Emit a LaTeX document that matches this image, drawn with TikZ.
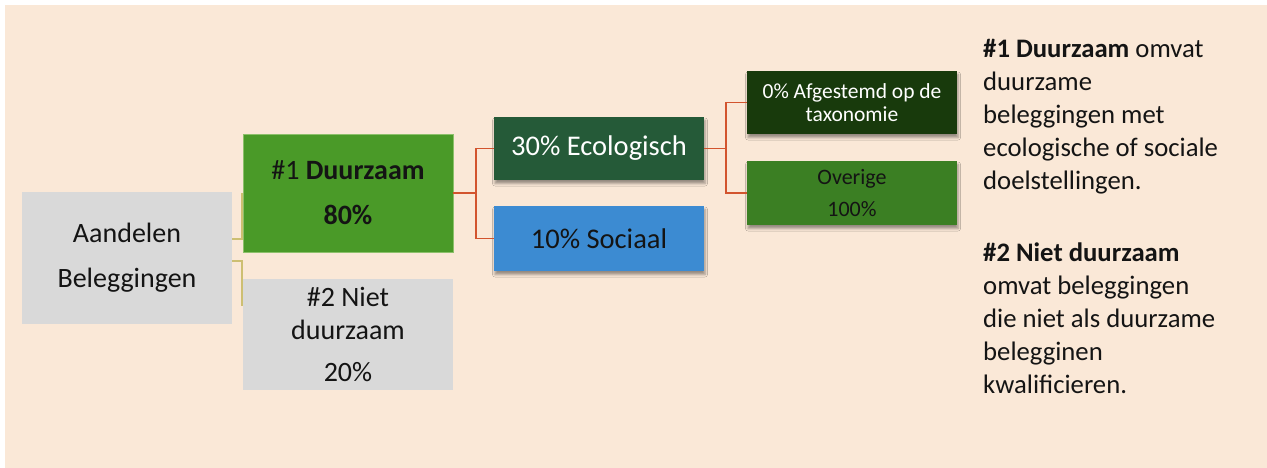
\documentclass[tikz,border=0pt]{standalone}
\usepackage{fontspec}
\setmainfont{Carlito}
\usetikzlibrary{shadows.blur}

\definecolor{bgpeach}{HTML}{FAE8D7}
\definecolor{boxgrey}{HTML}{D9D9D9}
\definecolor{durgreen}{HTML}{4A9A28}
\definecolor{durline}{HTML}{8CC06A}
\definecolor{ecogreen}{HTML}{255A38}
\definecolor{socblue}{HTML}{3C8BD2}
\definecolor{taxgreen}{HTML}{183A0C}
\definecolor{restgreen}{HTML}{3B7F23}
\definecolor{linkred}{HTML}{D2542E}
\definecolor{linkolive}{HTML}{CDBF72}
\definecolor{inkdark}{HTML}{141414}

\begin{document}
\begin{tikzpicture}[x=1pt, y=-1pt,
  box/.style={minimum width=210pt, inner sep=0pt, align=center, text=inkdark},
  softshadow/.style={blur shadow={shadow xshift=1pt, shadow yshift=-3.5pt,
      shadow blur radius=2.5pt, shadow opacity=40}},
  olivelink/.style={draw=linkolive, line width=1.6pt},
  redlink/.style={draw=linkred, line width=1.9pt},
  bigtext/.style={font=\fontsize{28}{45}\selectfont},
  smalltext/.style={font=\fontsize{21.5}{23}\selectfont}
]
\useasboundingbox (0,0) rectangle (1267,468);
\fill[white] (0,0) rectangle (1267,468);
\fill[bgpeach] (5,5) rectangle (1267,468);

% first level
\node[box, fill=boxgrey, minimum height=132pt, bigtext] (root) at (127,258)
  {Aandelen\\Beleggingen};
\node[box, fill=durgreen, draw=durline, line width=0.6pt, minimum height=118pt, bigtext]
  (dz) at (348,193) {\#1 \textbf{Duurzaam}\\\textbf{80\%}};
\node[box, fill=boxgrey, minimum height=111pt, font=\fontsize{28}{33}\selectfont]
  (nd) at (348,334.5) {\#2 Niet\\duurzaam\\[9pt]20\%};

% second level
\node[box, fill=ecogreen, softshadow, minimum height=63pt, text=white,
  font=\fontsize{28.5}{34}\selectfont] (eco) at (599,148.5) {30\% Ecologisch};
\node[box, fill=socblue, softshadow, minimum height=65pt,
  font=\fontsize{28.5}{34}\selectfont] (soc) at (599,238.5) {10\% Sociaal};

% third level
\node[box, fill=taxgreen, softshadow, minimum height=63pt, text=white, smalltext]
  (tax) at (852,102.5) {0\% Afgestemd op de\\taxonomie};
\node[box, fill=restgreen, softshadow, minimum height=64pt,
  font=\fontsize{22}{32}\selectfont] (rest) at (852,193) {Overige\\100\%};

% connectors
\draw[olivelink] ([yshift=19pt]root.east) -| ([xshift=-1pt]dz.west);
\draw[olivelink] ([yshift=-3pt]root.east) -| ([xshift=-1pt,yshift=-27pt]nd.north west);
\draw[redlink] (dz.east) -- ++(23,0) |- (eco.west);
\draw[redlink] (dz.east) -- ++(23,0) |- (soc.west);
\draw[redlink] (eco.east) -- ++(22,0) |- (tax.west);
\draw[redlink] (eco.east) -- ++(22,0) |- (rest.west);

% explanation
\node[anchor=north west, align=left, inner sep=0pt, text=inkdark,
  font=\fontsize{26.7}{33}\selectfont] (desc) at (983,39.5)
  {\textbf{\#1 Duurzaam} omvat\\duurzame\\beleggingen met\\ecologische of sociale\\doelstellingen.\\[39pt]
   \textbf{\#2 Niet duurzaam}\\omvat beleggingen\\die niet als duurzame\\belegginen\\kwalificieren.};
\end{tikzpicture}
\end{document}
